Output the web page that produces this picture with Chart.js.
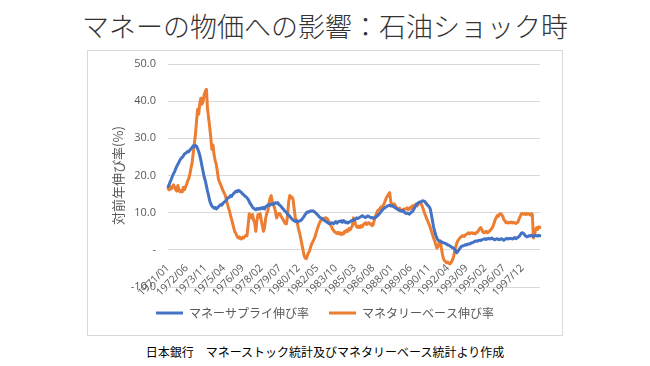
<!DOCTYPE html>
<html lang="ja">
<head>
<meta charset="utf-8">
<script src="https://cdn.jsdelivr.net/npm/chart.js@4.4.1/dist/chart.umd.min.js"></script>
<style>
  body { margin: 0; width: 650px; height: 366px; background: #fff; position: relative; overflow: hidden;
         font-family: "Noto Sans CJK JP", sans-serif; }
  #title { position: absolute; left: 0; top: 8px; width: 650px; text-align: center;
           font-size: 27px; font-weight: 300; line-height: 36px; color: #333; }
  #frame { position: absolute; left: 87px; top: 50px; width: 474px; height: 284px; border: 1px solid #d9d9d9; }
  #source { position: absolute; left: 0; top: 343px; width: 650px; text-align: center;
            font-size: 12px; line-height: 18px; color: #000; }
</style>
</head>
<body>
<div id="title">マネーの物価への影響：石油ショック時</div>
<div id="frame"><canvas id="chart" width="474" height="284"></canvas></div>
<div id="source">日本銀行　マネーストック統計及びマネタリーベース統計より作成</div>
<script>
// monthly, 1971/01 .. 1999/04, year-on-year growth (%)
const startYear = 1971;
const labelStep = 17;
const seriesNames = ['マネーサプライ伸び率', 'マネタリーベース伸び率'];
const yTicks = [-10, 0, 10, 20, 30, 40, 50];

const moneySupply = [
  17.0, 17.5, 18.3, 19.0, 19.8, 20.5, 21.0, 21.8, 22.5, 23.0, 23.6, 24.2, // 1971
  24.6, 24.9, 25.3, 25.8, 26.0, 26.2, 26.5, 26.4, 26.8, 27.2, 27.5, 28.0, // 1972
  27.8, 28.1, 27.9, 27.2, 26.4, 25.4, 24.0, 22.5, 21.0, 19.6, 18.6, 17.2, // 1973
  15.8, 14.6, 13.2, 12.4, 11.8, 11.5, 11.2, 11.4, 11.0, 11.3, 11.6, 11.9, // 1974
  12.2, 12.0, 12.5, 12.8, 13.0, 13.4, 13.8, 14.0, 14.2, 14.6, 14.4, 14.9, // 1975
  15.2, 15.5, 15.8, 15.6, 16.0, 15.9, 15.6, 15.4, 15.0, 14.8, 14.5, 14.3, // 1976
  14.0, 13.6, 13.0, 12.4, 12.0, 11.5, 11.2, 11.0, 10.8, 11.1, 10.9, 11.2, // 1977
  11.0, 11.3, 11.1, 11.4, 11.0, 11.6, 11.8, 12.0, 12.2, 12.0, 12.3, 12.4, // 1978
  12.2, 12.5, 12.7, 12.5, 12.7, 12.2, 12.0, 11.7, 11.3, 11.0, 10.6, 10.3, // 1979
  10.0, 9.6, 9.3, 9.0, 8.6, 8.3, 8.0, 7.8, 7.6, 7.8, 7.5, 7.7,            // 1980
  7.8, 7.9, 8.2, 8.6, 9.0, 9.5, 9.9, 10.2, 10.1, 10.3, 10.5, 10.4,        // 1981
  10.5, 10.3, 10.1, 9.8, 9.5, 9.2, 8.8, 8.6, 8.5, 8.2, 8.0, 7.8,          // 1982
  7.6, 7.4, 7.2, 7.0, 7.1, 7.3, 7.2, 7.0, 7.4, 7.6, 7.2, 7.5,             // 1983
  7.7, 7.6, 7.8, 7.4, 7.9, 7.6, 7.3, 7.5, 7.2, 7.4, 7.6, 7.8,             // 1984
  7.9, 8.1, 8.0, 8.3, 8.6, 8.4, 8.6, 8.8, 9.0, 9.2, 9.0, 8.8,             // 1985
  8.7, 8.9, 9.1, 9.0, 8.8, 8.6, 8.7, 8.5, 8.6, 8.7, 8.9, 9.2,             // 1986
  9.5, 9.8, 10.2, 10.6, 10.9, 11.2, 11.4, 11.6, 11.8, 11.9, 12.0, 11.8,   // 1987
  11.9, 11.7, 11.5, 11.3, 11.1, 11.0, 10.8, 10.6, 10.5, 10.4, 10.6, 10.2, // 1988
  10.0, 9.8, 9.9, 9.7, 9.6, 9.9, 10.2, 10.4, 10.9, 11.5, 12.0, 12.4,      // 1989
  12.6, 12.8, 12.9, 13.0, 13.2, 13.1, 13.0, 12.6, 12.2, 11.9, 11.6, 11.0, // 1990
  9.5, 7.8, 6.2, 5.0, 4.0, 3.2, 2.6, 2.4, 2.3, 2.2, 2.0, 1.9,             // 1991
  1.8, 1.7, 1.5, 1.3, 1.2, 1.0, 0.8, 0.6, 0.5, 0.2, -0.3, -0.8,           // 1992
  -0.5, 0.0, 0.4, 0.8, 1.0, 1.1, 1.2, 1.4, 1.3, 1.5, 1.6, 1.6,            // 1993
  1.8, 1.9, 2.0, 2.2, 2.3, 2.4, 2.3, 2.5, 2.6, 2.5, 2.7, 2.8,             // 1994
  2.9, 3.0, 2.8, 3.0, 3.1, 2.9, 3.0, 3.2, 3.0, 2.8, 2.7, 2.9,             // 1995
  3.0, 2.8, 2.7, 2.9, 3.0, 2.8, 2.6, 2.8, 3.0, 3.1, 2.9, 3.0,             // 1996
  3.1, 3.0, 2.9, 3.1, 3.3, 3.0, 3.2, 3.4, 3.6, 4.0, 4.5, 4.6,             // 1997
  4.4, 4.0, 3.7, 3.5, 3.6, 3.8, 3.7, 3.9, 3.7, 3.6, 3.8, 3.9,             // 1998
  3.8, 3.7, 3.9, 3.8                                                      // 1999
];

const monetaryBase = [
  16.5, 16.2, 17.0, 16.4, 16.8, 17.5, 16.9, 16.2, 15.8, 17.3, 16.0, 15.6, // 1971
  16.0, 15.6, 16.8, 16.2, 17.0, 17.6, 18.6, 19.2, 20.5, 22.0, 23.5, 26.0, // 1972
  28.5, 31.0, 34.5, 37.8, 36.5, 39.5, 40.8, 39.2, 40.0, 41.8, 42.6, 43.2, // 1973
  38.0, 35.5, 33.0, 30.2, 27.0, 28.2, 25.5, 24.0, 23.0, 21.0, 19.0, 18.2, // 1974
  17.5, 16.8, 16.0, 15.4, 14.8, 13.8, 12.5, 11.4, 10.5, 9.2, 8.2, 7.0,    // 1975
  5.8, 4.8, 4.3, 3.6, 3.2, 3.5, 3.0, 2.9, 3.4, 3.2, 3.6, 3.9,             // 1976
  3.8, 6.5, 9.7, 9.2, 8.6, 9.5, 8.0, 7.2, 5.0, 7.8, 9.5, 8.8,             // 1977
  9.7, 8.0, 6.5, 5.0, 6.0, 8.5, 9.8, 10.5, 12.5, 13.8, 14.6, 13.0,        // 1978
  12.2, 11.4, 10.2, 8.6, 9.4, 9.8, 9.7, 9.0, 8.6, 8.0, 7.5, 7.0,          // 1979
  7.0, 9.5, 13.0, 14.6, 14.0, 14.2, 13.5, 11.0, 8.6, 8.0, 7.0, 5.5,       // 1980
  4.5, 3.0, 1.5, 0.0, -1.5, -2.2, -2.4, -1.6, -0.8, -0.3, 0.8, 1.6,       // 1981
  2.2, 2.8, 3.5, 4.6, 5.5, 6.4, 7.2, 7.8, 8.0, 8.2, 8.4, 8.6,             // 1982
  8.6, 8.4, 8.0, 7.2, 6.8, 6.2, 5.6, 5.2, 4.8, 4.6, 4.4, 4.7,             // 1983
  4.3, 4.6, 4.1, 4.5, 4.3, 5.0, 4.8, 5.3, 5.0, 5.7, 5.4, 6.0,             // 1984
  6.5, 8.6, 7.8, 6.8, 6.2, 6.0, 6.4, 6.0, 6.5, 6.2, 6.8, 7.0,             // 1985
  7.3, 6.8, 7.2, 7.3, 6.9, 7.0, 6.5, 6.8, 8.0, 9.0, 9.8, 10.5,            // 1986
  10.8, 11.0, 11.5, 11.3, 11.9, 12.4, 13.2, 14.0, 14.5, 15.0, 15.4, 13.0, // 1987
  12.0, 11.9, 12.4, 12.0, 11.5, 11.0, 10.8, 11.2, 10.5, 10.5, 10.8, 11.0, // 1988
  10.9, 11.0, 11.3, 10.8, 11.0, 11.5, 11.2, 11.9, 11.6, 12.0, 12.3, 11.8, // 1989
  12.3, 12.6, 12.7, 12.2, 11.5, 10.6, 9.7, 9.0, 8.2, 7.5, 6.8, 6.0,       // 1990
  5.0, 4.2, 3.2, 2.4, 1.4, 0.5, 0.8, 1.8, 2.4, 0.6, -1.0, -2.4,           // 1991
  -2.9, -3.2, -3.5, -3.3, -3.6, -3.8, -3.4, -2.8, -2.2, -0.8, 0.6, 1.6,   // 1992
  2.4, 2.8, 3.2, 3.5, 3.8, 3.8, 3.6, 4.0, 4.2, 4.4, 4.6, 4.3,             // 1993
  4.5, 4.6, 4.4, 4.5, 4.3, 4.6, 4.8, 5.2, 5.7, 6.0, 5.4, 4.8,             // 1994
  4.6, 4.8, 5.0, 4.6, 4.8, 5.0, 5.4, 5.7, 6.2, 7.0, 8.0, 8.6,             // 1995
  9.2, 9.0, 9.6, 9.7, 9.5, 9.0, 8.2, 7.8, 7.3, 7.5, 7.2, 7.4,             // 1996
  7.3, 7.5, 7.2, 7.4, 7.3, 7.1, 7.3, 7.5, 8.4, 9.0, 9.7, 9.8,             // 1997
  9.6, 9.7, 9.5, 9.8, 9.6, 9.7, 9.4, 9.7, 9.6, 3.2, 4.0, 5.5,             // 1998
  6.0, 5.5, 6.2, 6.0                                                      // 1999
];

// category labels yyyy/mm
const months = [];
for (let i = 0; i < moneySupply.length; i++) {
  const y = startYear + Math.floor(i / 12);
  const m = (i % 12) + 1;
  months.push(`${y}/${String(m).padStart(2, '0')}`);
}

const gray = '#595959';
Chart.defaults.font.family = '"Noto Sans CJK JP", sans-serif';
Chart.defaults.color = gray;

new Chart(document.getElementById('chart'), {
  type: 'line',
  data: {
    labels: months,
    datasets: [
      { label: seriesNames[0], data: moneySupply, borderColor: '#4472C4', backgroundColor: '#4472C4' },
      { label: seriesNames[1], data: monetaryBase, borderColor: '#ED7D31', backgroundColor: '#ED7D31' }
    ]
  },
  options: {
    responsive: false,
    animation: false,
    layout: { padding: { left: 0, right: 0, top: 13, bottom: 6 } },
    elements: {
      point: { radius: 0, borderWidth: 3 },
      line: { borderWidth: 3, tension: 0, borderJoinStyle: 'round', borderCapStyle: 'round' }
    },
    plugins: {
      tooltip: { enabled: false },
      legend: {
        position: 'bottom',
        labels: {
          usePointStyle: true, pointStyle: 'line', pointStyleWidth: 27,
          padding: 20, color: gray, font: { size: 12 }
        }
      }
    },
    scales: {
      x: {
        type: 'category',
        position: { y: 0 },
        grid: { display: false },
        border: { display: false },
        ticks: {
          autoSkip: false, minRotation: 45, maxRotation: 45, padding: 4,
          font: { family: '"Open Sans", sans-serif', size: 10.5 }, color: gray,
          callback: (v, i) => (i % labelStep === 0 ? months[i] : null)
        }
      },
      y: {
        min: yTicks[0], max: yTicks[yTicks.length - 1],
        afterBuildTicks: (s) => { s.ticks = yTicks.map(v => ({ value: v })); },
        afterFit: (s) => { s.width = 80; },
        // invisible tick marks give the gap between labels and plot
        grid: { color: '#d9d9d9', lineWidth: 1, drawTicks: true, tickLength: 12, tickColor: 'rgba(0,0,0,0)' },
        border: { display: false },
        ticks: {
          padding: 0, color: gray,
          font: { family: '"Open Sans", sans-serif', size: 11 },
          callback: (v) => (v === 0 ? '-' : v.toFixed(1))
        },
        title: {
          display: true, text: '対前年伸び率(%)', color: gray,
          font: { size: 13 }, padding: { top: 22, bottom: 0 }
        }
      },
      // empty right margin, keeps the plot clear of the frame
      pad: {
        type: 'linear', position: 'right', display: true,
        grid: { display: false }, border: { display: false },
        ticks: { display: false },
        afterFit: (s) => { s.width = 22; }
      }
    }
  }
});
</script>
</body>
</html>
